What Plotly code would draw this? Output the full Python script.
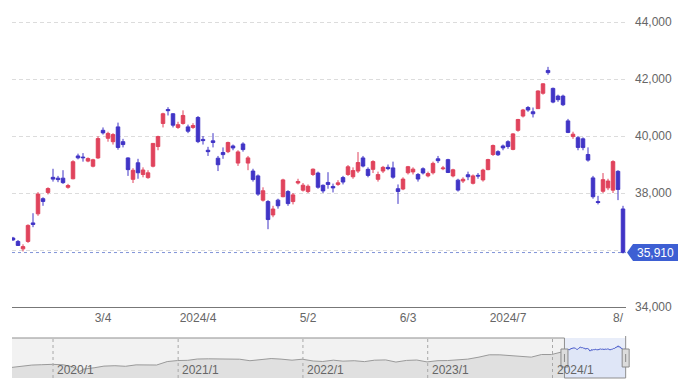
import plotly.graph_objects as go
import pandas as pd

# ---------------- main daily OHLC ----------------
dates = [
    "2024-02-05","2024-02-06","2024-02-07","2024-02-08","2024-02-09","2024-02-13","2024-02-14","2024-02-15",
    "2024-02-16","2024-02-19","2024-02-20","2024-02-21","2024-02-22","2024-02-26","2024-02-27","2024-02-28",
    "2024-02-29","2024-03-01","2024-03-04","2024-03-05","2024-03-06","2024-03-07","2024-03-08","2024-03-11",
    "2024-03-12","2024-03-13","2024-03-14","2024-03-15","2024-03-18","2024-03-19","2024-03-21","2024-03-22",
    "2024-03-25","2024-03-26","2024-03-27","2024-03-28","2024-03-29","2024-04-01","2024-04-02","2024-04-03",
    "2024-04-04","2024-04-05","2024-04-08","2024-04-09","2024-04-10","2024-04-11","2024-04-12","2024-04-15",
    "2024-04-16","2024-04-17","2024-04-18","2024-04-19","2024-04-22","2024-04-23","2024-04-24","2024-04-25",
    "2024-04-26","2024-04-30","2024-05-01","2024-05-02","2024-05-07","2024-05-08","2024-05-09","2024-05-10",
    "2024-05-13","2024-05-14","2024-05-15","2024-05-16","2024-05-17","2024-05-20","2024-05-21","2024-05-22",
    "2024-05-23","2024-05-24","2024-05-27","2024-05-28","2024-05-29","2024-05-30","2024-05-31","2024-06-03",
    "2024-06-04","2024-06-05","2024-06-06","2024-06-07","2024-06-10","2024-06-11","2024-06-12","2024-06-13",
    "2024-06-14","2024-06-17","2024-06-18","2024-06-19","2024-06-20","2024-06-21","2024-06-24","2024-06-25",
    "2024-06-26","2024-06-27","2024-06-28","2024-07-01","2024-07-02","2024-07-03","2024-07-04","2024-07-05",
    "2024-07-08","2024-07-09","2024-07-10","2024-07-11","2024-07-12","2024-07-16","2024-07-17","2024-07-18",
    "2024-07-19","2024-07-22","2024-07-23","2024-07-24","2024-07-25","2024-07-26","2024-07-29","2024-07-30",
    "2024-07-31","2024-08-01","2024-08-02",
]
opens = [
    36420,36300,36040,36300,36950,37270,37800,38020,38550,38520,38520,38200,38500,39300,39260,39120,
    38940,39230,40200,39920,39800,40320,39800,39230,38480,39060,38650,38540,38940,39630,40440,40930,
    40780,40300,40440,40320,40300,40650,39880,39500,39830,39220,39420,39450,39650,39050,39720,39050,
    38770,38600,37750,37700,37230,37750,37870,38050,37700,38350,38100,38050,38650,38700,38270,38370,
    38230,38300,38540,38650,38570,38770,39230,38830,38830,38480,38770,38900,38880,38150,38140,38710,
    38740,38650,38850,38600,38710,39200,38850,39170,38600,38450,38420,38640,38340,38620,38460,38820,
    39350,39450,39650,39800,39530,40200,40700,41000,40850,40960,41500,42300,41670,41400,41400,40530,
    39980,39940,39900,39350,38530,37700,38060,38180,38100,38760,37440,
]
highs = [
    36460,36350,36200,36900,37290,38030,37850,38200,38850,38600,38800,38320,39150,39380,39400,39250,
    39200,39990,40300,40150,40100,40470,39900,39250,38870,39200,38900,38800,39750,40010,40815,41010,
    40800,40500,40900,40400,40450,40700,40000,39620,40100,39300,39600,39800,39700,39500,39780,39300,
    38850,38650,38200,37750,37550,37800,38500,38100,38000,38500,38350,38300,38860,38750,38300,38730,
    38330,38450,38600,38980,38900,39437,39300,38900,39150,38750,38950,39000,39100,38300,38550,38950,
    38900,38700,38900,38750,39100,39300,38950,39200,38850,38500,38550,38750,38650,38700,38850,39200,
    39700,39500,39700,39850,40100,40600,40950,41050,41000,41600,41850,42426,41700,41450,41450,40600,
    40150,40000,39950,39600,38600,37900,38700,38500,39150,38800,37550,
]
lows = [
    36320,36150,35950,36250,36800,37200,37550,37950,38400,38380,38320,38150,38480,39180,39100,39080,
    38900,39200,40050,39800,39700,39520,39600,38600,38350,38500,38550,38500,38900,39500,40300,40720,
    40300,40250,40400,40100,40250,39750,39700,39300,39600,38770,39200,39400,39500,38950,39450,38800,
    38400,37900,37700,36730,37150,37450,37850,37550,37600,38300,38050,38000,38600,38150,38000,38150,
    38020,38250,38300,38600,38500,38700,38900,38550,38700,38400,38700,38800,38500,37617,38100,38650,
    38650,38400,38650,38550,38650,39050,38800,38700,38550,38050,38350,38450,38300,38500,38400,38800,
    39300,39300,39500,39550,39500,40150,40650,40850,40650,40950,41450,42150,41150,41200,41050,40100,
    39900,39500,39500,39100,37800,37600,38000,38100,38000,37750,35880,
]
closes = [
    36354,36160,36119,36863,36897,37963,37703,38157,38487,38470,38363,38262,39098,39233,39239,39208,
    39166,39910,40109,40090,40050,39598,39700,38820,38797,38710,38807,38708,39740,39980,40780,40888,
    40380,40398,40720,40168,40369,39803,39838,39451,39773,38992,39347,39773,39581,39442,39523,39232,
    38471,37961,38079,37068,37438,37552,38460,37628,37934,38405,38274,38236,38835,38202,38073,38300,
    38179,38356,38385,38920,38787,39069,38946,38617,39103,38646,38900,38855,38556,38054,38487,38923,
    38837,38490,38703,38683,39038,39134,38876,38720,38814,38102,38482,38570,38600,38596,38804,39173,
    39667,39341,39583,39631,40074,40580,40913,40912,40780,41580,41831,42224,41190,41275,41097,40126,
    40063,39599,39594,39154,37869,37667,38468,38420,39101,38126,35910,
]

# x-axis tick labels
tick_dates = ["2024-03-04", "2024-04-01", "2024-05-02", "2024-06-03", "2024-07-01", "2024-08-01"]
tick_text = ["3/4", "2024/4", "5/2", "6/3", "2024/7", "8/"]

# y-axis ticks
y_ticks = [34000, 36000, 38000, 40000, 42000, 44000]
y_tick_text = ["34,000", "", "38,000", "40,000", "42,000", "44,000"]

# ---------------- navigator (long history, monthly) ----------------
nav_dates = [
    "2019-09-03","2019-09-30","2019-10-31","2019-11-29","2019-12-30",
    "2020-01-31","2020-02-28","2020-03-19","2020-03-31","2020-04-30","2020-05-29","2020-06-30",
    "2020-07-31","2020-08-31","2020-09-30","2020-10-30","2020-11-30","2020-12-30",
    "2021-01-29","2021-02-26","2021-03-31","2021-04-30","2021-05-31","2021-06-30",
    "2021-07-30","2021-08-31","2021-09-30","2021-10-29","2021-11-30","2021-12-30",
    "2022-01-31","2022-02-28","2022-03-31","2022-04-28","2022-05-31","2022-06-30",
    "2022-07-29","2022-08-31","2022-09-30","2022-10-31","2022-11-30","2022-12-30",
    "2023-01-31","2023-02-28","2023-03-31","2023-04-28","2023-05-31","2023-06-30",
    "2023-07-31","2023-08-31","2023-09-29","2023-10-31","2023-11-30","2023-12-29",
    "2024-01-31","2024-02-05",
]
nav_values = [
    20620,21756,22927,23294,23657,
    23205,21143,16553,18917,20194,21878,22288,
    21710,23140,23185,22977,26434,27444,
    27663,28966,29179,28813,28860,28792,
    27284,28090,29453,28893,27822,28792,
    27002,26527,27821,26848,27280,26393,
    27802,28092,25937,27587,27969,26095,
    27327,27446,28041,28856,30888,33189,
    33172,32619,31858,30859,33487,33464,
    36287,36354,
]
year_lines = ["2020-01-01", "2021-01-01", "2022-01-01", "2023-01-01", "2024-01-01"]
year_labels = ["2020/1", "2021/1", "2022/1", "2023/1", "2024/1"]

# ---------------- build figure ----------------
idx = list(range(len(dates)))
date_to_idx = {d: i for i, d in enumerate(dates)}
tick_vals = [date_to_idx[d] for d in tick_dates]

RED = "#e0435c"
BLUE = "#4034c6"
GRID = "#dcdcdc"
TXT = "#666666"
FONT = "Liberation Sans, Arial, sans-serif"

fig = go.Figure()
fig.add_trace(go.Candlestick(
    x=idx, open=opens, high=highs, low=lows, close=closes,
    increasing=dict(line=dict(color=RED, width=1), fillcolor=RED),
    decreasing=dict(line=dict(color=BLUE, width=1), fillcolor=BLUE),
    whiskerwidth=0, xaxis="x", yaxis="y", showlegend=False, hoverinfo="skip",
))

# navigator traces
fig.add_trace(go.Scatter(
    x=nav_dates, y=nav_values, mode="lines", line=dict(color="#9a9a9a", width=1),
    fill="tozeroy", fillcolor="#e0e0e0", xaxis="x2", yaxis="y2", showlegend=False, hoverinfo="skip",
))
fig.add_trace(go.Scatter(
    x=dates, y=closes, mode="lines", line=dict(color="#4a5ccc", width=1),
    fill="tozeroy", fillcolor="#dfe6f7", xaxis="x2", yaxis="y2", showlegend=False, hoverinfo="skip",
))

# The page body has an 8px margin, so the chart is laid out in coordinates
# shifted by 8px from the browser window.
OFF = 8
W, H = 690 - OFF, 388 - OFF
ML, MR, MT, MB = 12 - OFF, 64, 0, 10
PW = W - ML - MR          # 614
PH = H - MT - MB          # 370
BOT = H - MB              # chart-pixel of plot bottom (370)

def py(screen_y):
    """paper y from a window pixel y"""
    return (BOT - (screen_y - OFF)) / PH

def px(screen_x):
    """paper x from a window pixel x"""
    return (screen_x - OFF - ML) / PW

main_bottom = py(307)
nav_top = py(338)
Y_LO = 34000
PPU = 0.0285              # px per unit on the main axis
Y_HI = Y_LO + (299 - MT) / PPU

nav_start = pd.Timestamp("2019-09-03")
nav_end = pd.Timestamp("2024-08-03")

def nav_frac(d):
    return (pd.Timestamp(d) - nav_start) / (nav_end - nav_start)

zs = nav_frac(dates[0])
ze = nav_frac(dates[-1])

shapes = []
shapes.append(dict(type="rect", xref="paper", yref="paper", x0=0, x1=zs, y0=0, y1=nav_top,
                   fillcolor="#f2f2f2", line=dict(width=0), layer="below"))
shapes.append(dict(type="rect", xref="paper", yref="paper", x0=zs, x1=ze, y0=0, y1=nav_top,
                   fillcolor="#e8edf9", line=dict(width=0), layer="below"))
for d in year_lines:
    shapes.append(dict(type="line", xref="x2", yref="paper", x0=d, x1=d, y0=0, y1=nav_top,
                       line=dict(color="#a8a8a8", width=1, dash="dot")))
shapes.append(dict(type="path", xref="paper", yref="paper",
                   path=f"M 0,{nav_top} L {zs},{nav_top} L {zs},0 L {ze},0 L {ze},{nav_top + 2/PH}",
                   line=dict(color="#8f8f8f", width=1)))
hw = 3.5 / PW
for zx in (zs, ze):
    shapes.append(dict(type="rect", xref="paper", yref="paper", x0=zx - hw, x1=zx + hw,
                       y0=py(367), y1=py(349),
                       fillcolor="#dcdcdc", line=dict(color="#8a8a8a", width=1)))
    shapes.append(dict(type="line", xref="paper", yref="paper", x0=zx, x1=zx,
                       y0=py(362), y1=py(354), line=dict(color="#8a8a8a", width=1)))
last = closes[-1]
shapes.append(dict(type="line", xref="paper", yref="y", x0=0, x1=1, y0=last, y1=last,
                   line=dict(color="#7f92d8", width=1, dash="dot")))
hh = 8.5 / PPU
tip, bl, br = px(627), px(633), px(678)
shapes.append(dict(type="path", xref="paper", yref="y",
                   path=f"M {tip},{last} L {bl},{last + hh} L {br},{last + hh} L {br},{last - hh} L {bl},{last - hh} Z",
                   fillcolor="#3d5fd3", line=dict(width=0)))

annotations = []
annotations.append(dict(xref="paper", yref="y", x=px(655), y=last, text=f"{last:,}",
                        showarrow=False, font=dict(color="white", size=12, family=FONT),
                        xanchor="center", yanchor="middle"))
for d, t in zip(year_lines, year_labels):
    annotations.append(dict(xref="x2", yref="paper", x=d, y=py(370), text=t,
                            showarrow=False, xanchor="left", yanchor="middle", xshift=2,
                            font=dict(color=TXT, size=12, family=FONT)))

fig.update_layout(
    width=W, height=H,
    margin=dict(l=ML, r=MR, t=MT, b=MB, autoexpand=False),
    paper_bgcolor="white", plot_bgcolor="rgba(0,0,0,0)",
    font=dict(family=FONT, color=TXT, size=12),
    showlegend=False,
    boxgap=0.3, boxgroupgap=0,
    xaxis=dict(domain=[0, 1], range=[-0.2, 122.6], anchor="y", tickmode="array",
               tickvals=tick_vals, ticktext=tick_text, showgrid=False, zeroline=False,
               showline=True, linecolor="#777777", linewidth=1, ticks="",
               tickfont=dict(size=12, color=TXT), rangeslider=dict(visible=False),
               fixedrange=True),
    yaxis=dict(domain=[main_bottom, 1], range=[Y_LO, Y_HI], anchor="x", side="right",
               tickmode="array", tickvals=y_ticks, ticktext=y_tick_text,
               showgrid=True, gridcolor=GRID, griddash="4px,3px", gridwidth=1,
               zeroline=False, showline=False, ticks="", ticklabelstandoff=8,
               tickfont=dict(size=12, color=TXT)),
    xaxis2=dict(domain=[0, 1], range=[str(nav_start.date()), str(nav_end.date())], anchor="y2",
                type="date", visible=False),
    yaxis2=dict(domain=[0, nav_top], range=[10000, 50000], anchor="x2", visible=False),
    shapes=shapes,
    annotations=annotations,
)

fig.write_html("out.html")
